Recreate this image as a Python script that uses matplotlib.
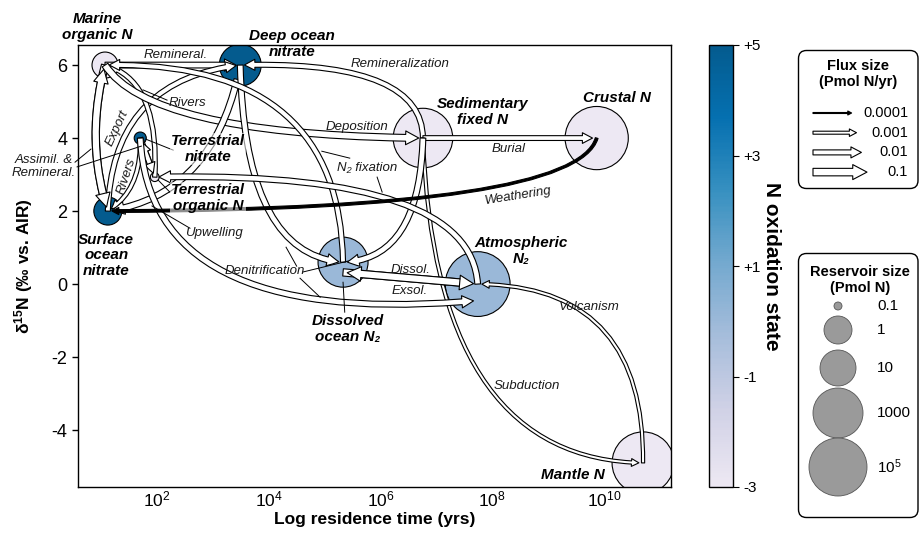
import numpy as np
import matplotlib
matplotlib.use('Agg')
import matplotlib.pyplot as plt
from matplotlib.patches import FancyArrowPatch, FancyBboxPatch, Circle, ConnectionStyle, ArrowStyle
from matplotlib.path import Path
from matplotlib.colors import LinearSegmentedColormap, Normalize
from matplotlib.cm import ScalarMappable
from matplotlib.ticker import NullLocator

plt.rcParams['font.family'] = ['Liberation Sans', 'DejaVu Sans']
plt.rcParams['mathtext.fontset'] = 'custom'
plt.rcParams['mathtext.rm'] = 'Liberation Sans'
plt.rcParams['mathtext.it'] = 'Liberation Sans:italic'
plt.rcParams['mathtext.bf'] = 'Liberation Sans:bold'
plt.rcParams['axes.unicode_minus'] = False

# --- reservoirs (log10 residence time in yr, d15N in permil, size in Pmol N, N oxidation state)
res_names = ['marine_org', 'deep_no3', 'terr_no3', 'terr_org', 'surf_no3',
             'sed', 'crust', 'diss_n2', 'atm_n2', 'mantle']
res_logtau = [1.07, 3.49, 1.70, 1.96, 1.12, 6.76, 9.87, 5.33, 7.74, 10.70]
res_d15n = [6.0, 6.0, 4.0, 2.93, 2.0, 4.0, 4.0, 0.6, 0.0, -4.9]
res_size = [0.8, 70, 0.16, 0.11, 1.0, 2.5e5, 2e6, 1000, 5e6, 1e6]
res_ox = [-3, 5, 5, -3, 5, -3, -3, 0, 0, -3]
res_labels = ['Marine\norganic N', 'Deep ocean\nnitrate', 'Terrestrial\nnitrate',
              'Terrestrial\norganic N', 'Surface\nocean\nnitrate', 'Sedimentary\nfixed N',
              'Crustal N', 'Dissolved\nocean N₂', 'Atmospheric\nN₂', 'Mantle N']

# --- fluxes (Pmol N/yr)
flux_src = ['marine_org', 'surf_no3', 'sed', 'marine_org', 'surf_no3', 'terr_no3',
            'terr_org', 'terr_no3', 'terr_org', 'marine_org', 'sed', 'sed', 'mantle',
            'deep_no3', 'deep_no3', 'sed', 'diss_n2', 'atm_n2', 'terr_no3',
            'diss_n2', 'atm_n2', 'crust']
flux_dst = ['deep_no3', 'deep_no3', 'deep_no3', 'surf_no3', 'marine_org', 'surf_no3',
            'marine_org', 'terr_org', 'terr_no3', 'sed', 'crust', 'mantle', 'atm_n2',
            'surf_no3', 'diss_n2', 'diss_n2', 'marine_org', 'terr_org', 'atm_n2',
            'atm_n2', 'diss_n2', 'surf_no3']
flux_pmol = [0.02, 0.01, 0.01, 0.08, 0.08, 0.003, 0.005, 0.01, 0.01, 0.05, 0.008,
             0.0012, 0.0012, 0.03, 0.02, 0.02, 0.01, 0.02, 0.02, 0.08, 0.08, 0.0008]

# curve routing: control point of each flux path (log10 tau, d15N), None = straight
flux_via = [None, (1.195, 5.59), (6.75, 6.14), (0.712, 3.945), (0.712, 3.945),
            (1.73, 2.58), (2.05, 5.59), None, None, (1.875, 4.08), None,
            (6.97, -4.82), (10.73, -0.03), (3.04, 2.44), (3.57, 0.79), (6.70, 0.66),
            (5.27, 6.14), (7.61, 3.12), (1.875, -1.26), None, None, (9.48, 2.03)]
# vertical shift of path ends away from reservoir centres (start, end), in permil
flux_end_dy = {18: (0.0, -0.45), 19: (-0.28, 0.0), 20: (0.0, -0.28)}

flux_text = ['Remineral.', 'Remineralization', 'Rivers', 'Deposition', 'Burial',
             'N₂ fixation', 'Weathering', 'Dissol.', 'Exsol.', 'Volcanism', 'Subduction',
             'Denitrification', 'Upwelling', 'Export', 'Rivers', 'Assimil. &\nRemineral.']

# legends
flux_legend_vals = [1e-4, 1e-3, 1e-2, 1e-1]
flux_legend_text = ['0.0001', '0.001', '0.01', '0.1']
size_legend_vals = [0.1, 1, 10, 1000, 1e5]
size_legend_text = ['0.1', '1', '10', '1000', r'$10^5$']
ox_ticks = [5, 3, 1, -1, -3]
ox_ticklabels = ['+5', '+3', '+1', '-1', '-3']

# --- styling
FLUX_TAIL_PX = [1.0, 3.0, 5.0, 7.5]
FLUX_HEAD_PX = [4.0, 7.5, 11.0, 15.0]
SIZE_RADIUS_PX = [4, 14, 18, 25, 29]
PX2PT = 0.72

cmap = LinearSegmentedColormap.from_list(
    'pubu_cut', plt.get_cmap('PuBu')(np.linspace(0.12, 0.87, 256)))


def radius_px(v):
    lv = np.log10(v)
    lk = np.log10(size_legend_vals)
    if lv > lk[-1]:
        slope = (SIZE_RADIUS_PX[-1] - SIZE_RADIUS_PX[-2]) / (lk[-1] - lk[-2])
        return SIZE_RADIUS_PX[-1] + (lv - lk[-1]) * slope
    return np.interp(lv, lk, SIZE_RADIUS_PX)


def flux_style(v):
    lv = np.log10(v)
    lk = np.log10(flux_legend_vals)
    tail = np.interp(lv, lk, FLUX_TAIL_PX) * PX2PT
    head = np.interp(lv, lk, FLUX_HEAD_PX) * PX2PT
    return tail, head


class Via(ConnectionStyle.Arc3):
    """quadratic bezier through a control point given in data coords"""
    def __init__(self, ctrl, trans):
        super().__init__(rad=0.0)
        self.ctrl = ctrl
        self.trans = trans

    def connect(self, posA, posB):
        if self.ctrl is None:
            c = ((posA[0] + posB[0]) / 2, (posA[1] + posB[1]) / 2)
        else:
            c = self.trans.transform((10 ** self.ctrl[0], self.ctrl[1]))
        return Path([posA, c, posB], [Path.MOVETO, Path.CURVE3, Path.CURVE3])


fig = plt.figure(figsize=(9.19, 5.35), dpi=100)
ax = fig.add_axes([78 / 919, 48 / 535, 593 / 919, 442 / 535])
ax.set_xscale('log')
ax.set_xlim(10 ** 0.586, 10 ** 11.2)
ax.set_ylim(-5.56, 6.55)

# reservoirs
radii = np.array([radius_px(v) for v in res_size])
ax.scatter(10 ** np.array(res_logtau), res_d15n, s=(2 * radii * PX2PT) ** 2, c=res_ox,
           cmap=cmap, vmin=-3, vmax=5, edgecolors='black', linewidths=0.8, zorder=2)

pos = {n: (10 ** lx, y) for n, lx, y in zip(res_names, res_logtau, res_d15n)}

# fluxes
drawn = {}
for i in range(len(flux_src)):
    s, d, v = flux_src[i], flux_dst[i], flux_pmol[i]
    tail, head = flux_style(v)
    dya, dyb = flux_end_dy.get(i, (0.0, 0.0))
    pa = (pos[s][0], pos[s][1] + dya)
    pb = (pos[d][0], pos[d][1] + dyb)
    shrink_b = 3
    shrink_a = drawn.get((d, s), 0)
    fc = 'black' if v < 1e-3 else 'white'
    arr = FancyArrowPatch(posA=pa, posB=pb,
                          connectionstyle=Via(flux_via[i], ax.transData),
                          arrowstyle=ArrowStyle.Simple(head_length=head * 0.95,
                                                       head_width=head, tail_width=tail),
                          mutation_scale=1, shrinkA=shrink_a, shrinkB=shrink_b,
                          fc=fc, ec='black', lw=0.8, zorder=3)
    ax.add_patch(arr)
    drawn[(s, d)] = shrink_b + head * 0.95

# reservoir labels
res_label_xy = [(0.93, 7.04), (4.42, 6.58), (2.91, 3.70), (2.91, 2.36), (1.09, 0.79),
                (7.83, 4.71), (10.23, 5.10), (5.42, -1.23), (8.51, 0.90), (9.44, -5.23)]
for t, (lx, y) in zip(res_labels, res_label_xy):
    box = None
    if t.startswith('Terrestrial'):
        box = dict(boxstyle='square,pad=0.05', fc='white', ec='none', alpha=0.55)
    ax.text(10 ** lx, y, t, ha='center', va='center', fontsize=11, fontweight='bold',
            style='italic', zorder=6, linespacing=1.15, bbox=box)

# flux labels
flux_text_xy = [(2.34, 6.27), (6.35, 6.03), (2.54, 4.96), (5.58, 4.30), (8.30, 3.70),
                (5.76, 3.18), (8.46, 2.41), (6.53, 0.38), (6.53, -0.19), (9.73, -0.63),
                (8.62, -2.79), (3.93, 0.36), (3.02, 1.40), (1.28, 4.27), (1.46, 2.96),
                (-0.02, 3.23)]
flux_text_rot = [0, 0, 0, 0, 0, 0, 9, 0, 0, 0, 0, 0, 0, 65, 72, 0]
for t, (lx, y), r in zip(flux_text, flux_text_xy, flux_text_rot):
    ax.text(10 ** lx, y, t, ha='center', va='center', fontsize=9.5, style='italic',
            color='#1a1a1a', rotation=r, zorder=5, linespacing=1.1)

leaders = [((0.533, 3.34), (0.819, 3.70)), ((0.57, 3.21), (1.72, 3.78)),
           ((2.18, 5.04), (1.75, 5.32)), ((2.29, 3.67), (1.80, 3.97)),
           ((2.23, 2.52), (2.02, 2.85)), ((2.59, 1.53), (1.91, 2.14)),
           ((5.45, 3.45), (4.95, 3.64)), ((5.94, 2.93), (6.03, 2.52)),
           ((4.50, 0.49), (4.31, 1.01)), ((4.61, 0.33), (5.42, 0.63)),
           ((4.56, 0.16), (4.92, -0.36)), ((5.33, 0.05), (5.36, -0.77))]
for (a, b) in leaders:
    ax.plot([10 ** a[0], 10 ** b[0]], [a[1], b[1]], color='black', lw=0.7, zorder=4,
            clip_on=False)

ax.set_xticks([1e2, 1e4, 1e6, 1e8, 1e10])
ax.xaxis.set_minor_locator(NullLocator())
ax.set_yticks([-4, -2, 0, 2, 4, 6])
ax.tick_params(axis='x', length=0, pad=2, labelsize=12.5)
ax.tick_params(axis='y', length=4, width=1, labelsize=13)
for sp in ax.spines.values():
    sp.set_linewidth(1)
ax.set_xlabel('Log residence time (yrs)', fontsize=12.5, fontweight='bold', labelpad=2)
ax.set_ylabel(r'δ$^{\mathbf{15}}$N (‰ vs. AIR)', fontsize=12.5, fontweight='bold',
              labelpad=12)

# colorbar
cax = fig.add_axes([709 / 919, 48 / 535, 24 / 919, 442 / 535])
cb = fig.colorbar(ScalarMappable(norm=Normalize(-3, 5), cmap=cmap), cax=cax, ticks=ox_ticks)
cb.set_ticklabels(ox_ticklabels)
cb.outline.set_linewidth(1)
cax.tick_params(labelsize=11, length=4, width=0.8)
fig.text(771 / 919, 1 - 266 / 535, 'N oxidation state', rotation=270, ha='center',
         va='center', fontsize=15, fontweight='bold')

# flux size legend
fw, fh = 121, 139
fax = fig.add_axes([798 / 919, 1 - 189 / 535, fw / 919, fh / 535])
fax.set_xlim(0, fw)
fax.set_ylim(fh, 0)
fax.axis('off')
fax.add_patch(FancyBboxPatch((0.5, 0.5), fw - 1.5, fh - 1, boxstyle='round,pad=0,rounding_size=8',
                             fc='white', ec='black', lw=1, clip_on=False))
fax.text(60, 24, 'Flux size\n(Pmol N/yr)', ha='center', va='center', fontsize=10.5,
         fontweight='bold', linespacing=1.25)
for k, (v, t) in enumerate(zip(flux_legend_vals, flux_legend_text)):
    y = 63 + 19.7 * k
    tail, head = flux_style(v)
    length = 33 + head / PX2PT * 1.4
    fax.add_patch(FancyArrowPatch((15, y), (15 + length, y),
                                  arrowstyle=ArrowStyle.Simple(head_length=head * 0.95,
                                                               head_width=head, tail_width=tail),
                                  mutation_scale=1, shrinkA=0, shrinkB=0,
                                  fc='black' if v < 1e-3 else 'white', ec='black', lw=0.8))
    fax.text(110, y, t, ha='right', va='center', fontsize=10.5)

# reservoir size legend
rw, rh = 121, 265
rax = fig.add_axes([798 / 919, 1 - 518 / 535, rw / 919, rh / 535])
rax.set_xlim(0, rw)
rax.set_ylim(rh, 0)
rax.axis('off')
rax.add_patch(FancyBboxPatch((0.5, 0.5), rw - 1.5, rh - 1, boxstyle='round,pad=0,rounding_size=8',
                             fc='white', ec='black', lw=1, clip_on=False))
rax.text(62, 27, 'Reservoir size\n(Pmol N)', ha='center', va='center', fontsize=10.5,
         fontweight='bold', linespacing=1.1)
legend_y = [53, 77, 115, 160, 214]
for v, t, y in zip(size_legend_vals, size_legend_text, legend_y):
    rax.add_patch(Circle((40, y), radius_px(v), fc='#9a9a9a', ec='#555555', lw=0.6))
    rax.text(79, y, t, ha='left', va='center', fontsize=11)

fig.savefig('out.png', dpi=100)
